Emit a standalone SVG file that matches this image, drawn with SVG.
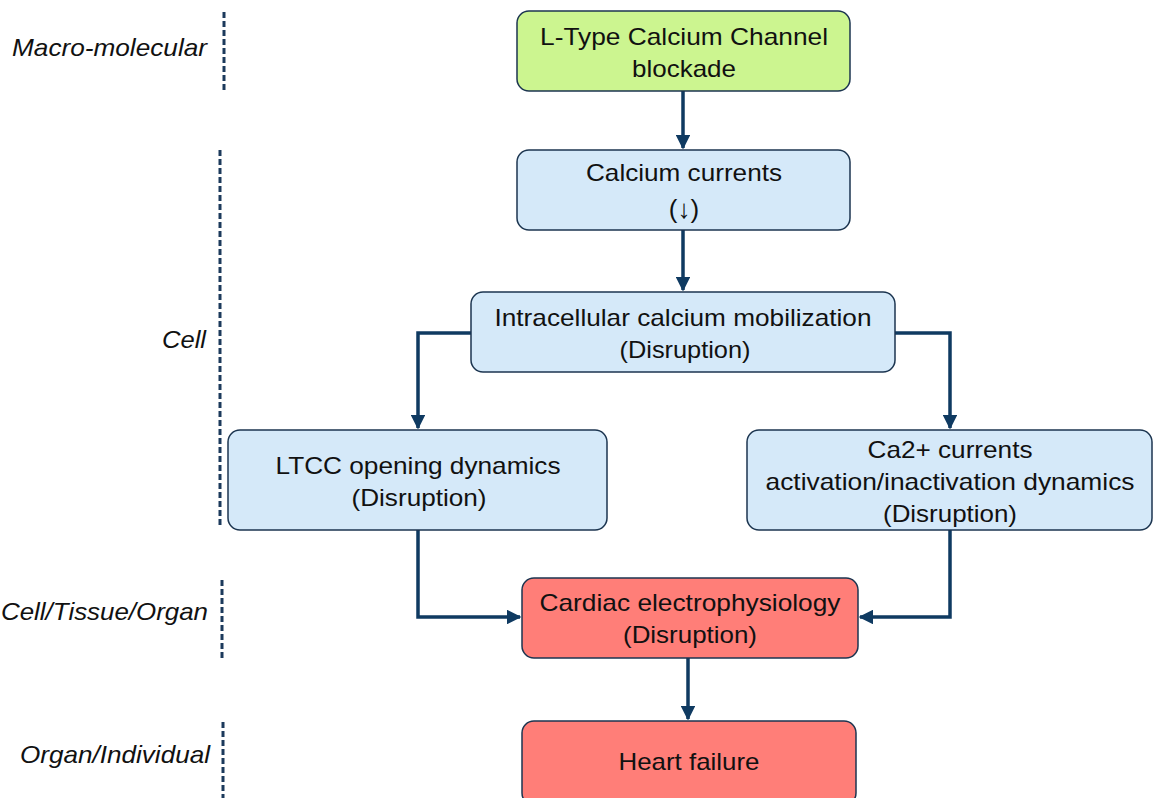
<svg xmlns="http://www.w3.org/2000/svg" width="1159" height="798" viewBox="0 0 1159 798">
<style>
.box{stroke:#1c3550;stroke-width:1.5}
.g{fill:#ccf590}
.b{fill:#d5e9f9}
.r{fill:#ff7e78}
.t{font-family:"Liberation Sans",Arial,sans-serif;font-size:24px;fill:#111;text-anchor:middle}
.lab{font-family:"Liberation Sans",Arial,sans-serif;font-size:24px;font-style:italic;fill:#111;text-anchor:end}
.dash{stroke:#1c3a5c;stroke-width:3;stroke-dasharray:6 3;fill:none}
.c{stroke:#0f3a61;stroke-width:3.5;fill:none;marker-end:url(#ah)}
</style>
<defs>
<marker id="ah" viewBox="0 0 10 10" refX="9" refY="5" markerWidth="4.2" markerHeight="4.2" orient="auto" markerUnits="strokeWidth">
<path d="M0,0 L10,5 L0,10 z" fill="#0f3a61"/>
</marker>
</defs>
<rect width="1159" height="798" fill="#fff"/>
<g id="levels">
<text class="lab" x="207" y="56" textLength="195" lengthAdjust="spacingAndGlyphs">Macro-molecular</text>
<line class="dash" x1="224" y1="12" x2="224" y2="92"/>
<text class="lab" x="206" y="348" textLength="44" lengthAdjust="spacingAndGlyphs">Cell</text>
<line class="dash" x1="220" y1="150" x2="220" y2="528"/>
<text class="lab" x="208" y="620" textLength="207" lengthAdjust="spacingAndGlyphs">Cell/Tissue/Organ</text>
<line class="dash" x1="222" y1="580" x2="222" y2="658"/>
<text class="lab" x="210" y="763" textLength="190" lengthAdjust="spacingAndGlyphs">Organ/Individual</text>
<line class="dash" x1="223" y1="722" x2="223" y2="798"/>
</g>
<g id="connectors">
<path class="c" d="M683,91 V148"/>
<path class="c" d="M683,230 V290"/>
<path class="c" d="M471,333 H418 V428"/>
<path class="c" d="M895,333 H950 V428"/>
<path class="c" d="M418,530 V617 H520"/>
<path class="c" d="M950,530 V617 H860"/>
<path class="c" d="M688,658 V719"/>
</g>
<g id="n1"><rect class="box g" x="517" y="11" width="333" height="80" rx="12"/>
<text class="t" x="684" y="45" textLength="288" lengthAdjust="spacingAndGlyphs">L-Type Calcium Channel</text><text class="t" x="684" y="77" textLength="104" lengthAdjust="spacingAndGlyphs">blockade</text></g>
<g id="n2"><rect class="box b" x="517" y="150" width="333" height="80" rx="12"/>
<text class="t" x="684" y="181" textLength="196" lengthAdjust="spacingAndGlyphs">Calcium currents</text><text class="t" x="684" y="218" style="font-size:26px">(↓)</text></g>
<g id="n3"><rect class="box b" x="471" y="292" width="424" height="80" rx="12"/>
<text class="t" x="683" y="326" textLength="377" lengthAdjust="spacingAndGlyphs">Intracellular calcium mobilization</text><text class="t" x="685" y="358" textLength="131" lengthAdjust="spacingAndGlyphs">(Disruption)</text></g>
<g id="n4"><rect class="box b" x="228" y="430" width="379" height="100" rx="12"/>
<text class="t" x="418" y="474" textLength="285" lengthAdjust="spacingAndGlyphs">LTCC opening dynamics</text><text class="t" x="419" y="506" textLength="135" lengthAdjust="spacingAndGlyphs">(Disruption)</text></g>
<g id="n5"><rect class="box b" x="747" y="430" width="405" height="100" rx="12"/>
<text class="t" x="950" y="458" textLength="165" lengthAdjust="spacingAndGlyphs">Ca2+ currents</text><text class="t" x="950" y="490" textLength="369" lengthAdjust="spacingAndGlyphs">activation/inactivation dynamics</text><text class="t" x="950" y="522" textLength="134" lengthAdjust="spacingAndGlyphs">(Disruption)</text></g>
<g id="n6"><rect class="box r" x="522" y="578" width="336" height="80" rx="12"/>
<text class="t" x="690" y="611" textLength="301" lengthAdjust="spacingAndGlyphs">Cardiac electrophysiology</text><text class="t" x="690" y="643" textLength="134" lengthAdjust="spacingAndGlyphs">(Disruption)</text></g>
<g id="n7"><rect class="box r" x="522" y="721" width="334" height="84" rx="12"/>
<text class="t" x="689" y="770" textLength="141" lengthAdjust="spacingAndGlyphs">Heart failure</text></g>
</svg>
